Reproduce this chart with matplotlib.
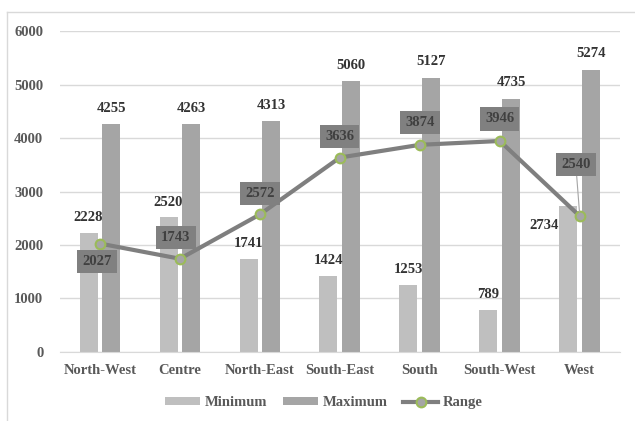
import numpy as np
import matplotlib.pyplot as plt

regions = ['North-West', 'Centre', 'North-East', 'South-East', 'South', 'South-West', 'West']
minimum = [2228, 2520, 1741, 1424, 1253, 789, 2734]
maximum = [4255, 4263, 4313, 5060, 5127, 4735, 5274]
value_range = [2027, 1743, 2572, 3636, 3874, 3946, 2540]

# label offsets for the range boxes (pixels, dx, dy)
range_offsets = [(-3, -18), (-4, 21), (0, 21), (0, 21), (0, 22), (0, 22), (-4, 52)]

plt.rcParams['font.family'] = ['Liberation Serif', 'DejaVu Serif']
plt.rcParams['font.weight'] = 'bold'

px = 0.72  # points per pixel at dpi 100
txt_col = '#595959'

fig = plt.figure(figsize=(6.35, 4.21), dpi=100)
ax = fig.add_axes([0.0945, 0.164, 0.8815, 0.762])

x = np.arange(len(regions))
w = 0.225
gap = 0.03
b1 = ax.bar(x - w / 2 - gap, minimum, w, color='#BFBFBF', label='Minimum', zorder=2)
b2 = ax.bar(x + w / 2 + gap, maximum, w, color='#A5A5A5', label='Maximum', zorder=2)
ln, = ax.plot(x, value_range, color='#7F7F7F', lw=3, marker='o', ms=7,
              mfc='#A5A5A5', mec='#9BBB59', mew=1.5, label='Range', zorder=4)

for i in range(len(regions)):
    if i == 6:
        ax.annotate(str(minimum[i]), (x[i] - w / 2 - gap, minimum[i]),
                    xytext=(-24 * px, -20 * px), textcoords='offset points',
                    ha='center', va='center', fontsize=10.5, color='#333333', zorder=5)
    else:
        ax.annotate(str(minimum[i]), (x[i] - w / 2 - gap, minimum[i]),
                    xytext=(0, 15 * px), textcoords='offset points',
                    ha='center', va='center', fontsize=10.5, color='#333333', zorder=5)
    ax.annotate(str(maximum[i]), (x[i] + w / 2 + gap, maximum[i]),
                xytext=(0, 16 * px), textcoords='offset points',
                ha='center', va='center', fontsize=10.5, color='#333333', zorder=5)
    dx, dy = range_offsets[i]
    arrow = None
    if i == 6:
        arrow = dict(arrowstyle='-', color='#A5A5A5', lw=0.8, shrinkA=0, shrinkB=3)
    ax.annotate(str(value_range[i]), (x[i], value_range[i]),
                xytext=(dx * px, dy * px), textcoords='offset points',
                ha='center', va='center', fontsize=10.5, color='#404040',
                bbox=dict(boxstyle='square,pad=0.35', fc='#808080', ec='none'),
                arrowprops=arrow, zorder=6)

ax.set_xlim(-0.5, len(regions) - 0.5)
ax.set_ylim(0, 6000)
ax.set_yticks(range(0, 6001, 1000))
ax.set_xticks(x)
ax.set_xticklabels(regions)
ax.tick_params(length=0, labelsize=10.5, colors=txt_col, pad=9)
ax.tick_params(axis='y', pad=12)
ax.grid(axis='y', color='#D9D9D9', lw=1, zorder=0)
ax.set_axisbelow(True)
for s in ['top', 'right', 'left']:
    ax.spines[s].set_visible(False)
ax.spines['bottom'].set_color('#D9D9D9')

leg = fig.legend(handles=[b1, b2, ln], loc='center', bbox_to_anchor=(0.51, 0.043),
                 ncol=3, frameon=False, fontsize=10.5, handlelength=2.4,
                 handleheight=0.5, columnspacing=1.1, handletextpad=0.3)
for t in leg.get_texts():
    t.set_color(txt_col)

# outer chart frame
fig.add_artist(plt.Line2D([7 / 635, 7 / 635], [0, 1 - 12 / 421], color='#D9D9D9', lw=1))
fig.add_artist(plt.Line2D([7 / 635, 1], [1 - 12 / 421, 1 - 12 / 421], color='#D9D9D9', lw=1))

fig.savefig('out.png', dpi=100)
